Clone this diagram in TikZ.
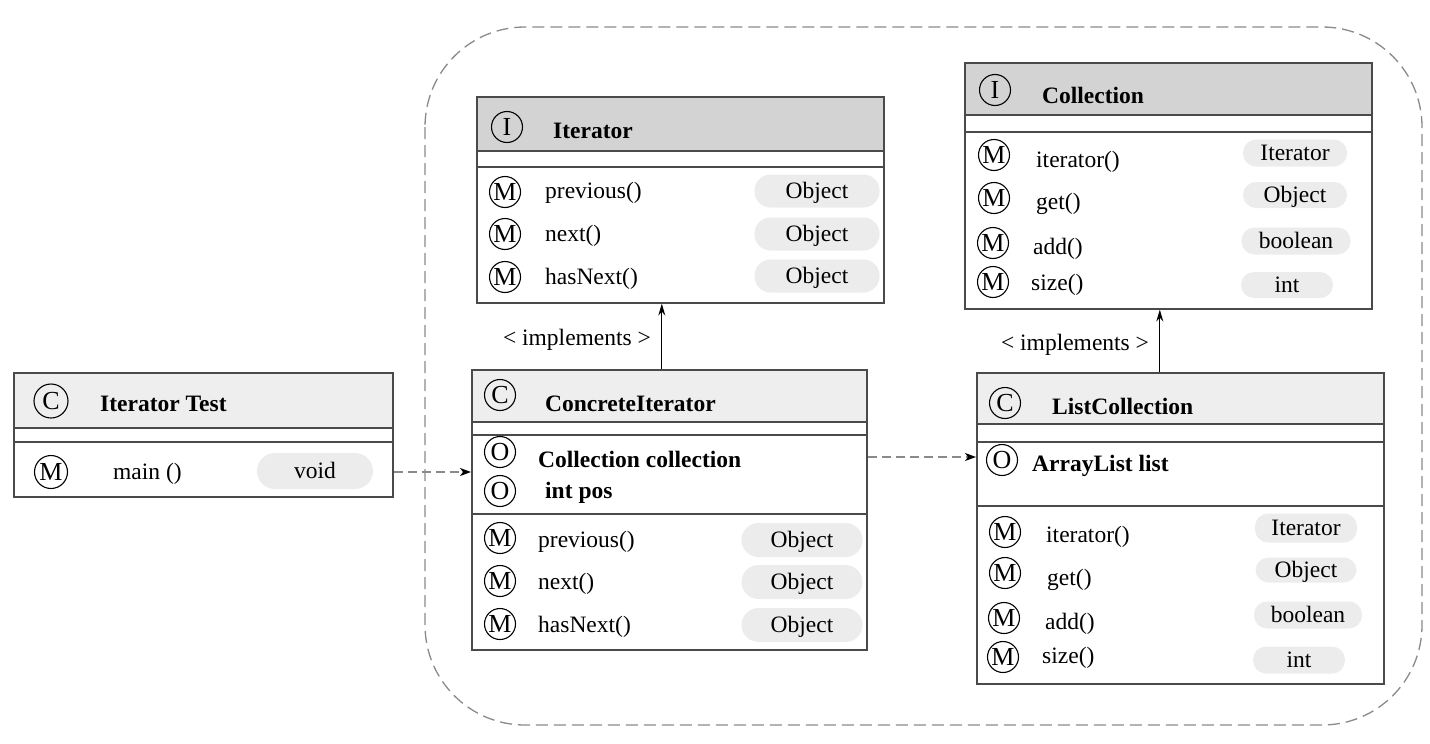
\documentclass[tikz,border=0pt]{standalone}
\usepackage{fontspec}
\setmainfont{Liberation Serif}
\usetikzlibrary{arrows.meta}
\definecolor{linec}{HTML}{4A4A4A}
\definecolor{hdrlight}{HTML}{EEEEEE}
\definecolor{hdrdark}{HTML}{D3D3D3}
\definecolor{pillc}{HTML}{ECECEC}
\definecolor{dashc}{HTML}{8A8A8A}
\tikzset{
  classbox/.style n args={4}{draw=linec, line width=1.6pt, minimum width=#1, minimum height=#2,
    anchor=north west, inner sep=0pt,
    path picture={\fill[#4] (path picture bounding box.north west) rectangle ([yshift=-#3]path picture bounding box.north east);}},
  divline/.style={draw=linec, line width=1.6pt},
  icon/.style={circle, draw=black, line width=1.1pt, inner sep=0pt, minimum size=31pt,
    font=\fontsize{26}{26}\selectfont},
  txt/.style={anchor=west, inner sep=0pt, yshift=-2.5pt, font=\fontsize{23.5}{27}\selectfont},
  btxt/.style={txt, font=\fontsize{23.5}{27}\selectfont\bfseries},
  pill/.style={rectangle, rounded corners=13pt, fill=pillc, inner sep=0pt,
    text height=15.5pt, text depth=0pt, font=\fontsize{23.5}{27}\selectfont},
  dep/.style={draw=dashc, line width=1.4pt, dash pattern=on 9pt off 5pt,
    -{Stealth[length=11pt,width=8pt,inset=3pt,fill=black,color=black]}},
  impl/.style={draw=black, line width=1.2pt,
    -{Stealth[length=12pt,width=7pt,inset=4pt]}},
  group/.style={draw=dashc, line width=1.3pt, dash pattern=on 12pt off 6pt, rounded corners=100pt}
}
\begin{document}
\begin{tikzpicture}[x=1pt,y=-1pt]
\useasboundingbox (0,0) rectangle (1430,744);
\draw[group] (425,27) rectangle (1422,725);

% ---------------- Iterator Test
\node[classbox={379}{124}{56}{hdrlight}] (test) at (13,372) {};
\draw[divline] (test.west |- 0,428) -- (test.east |- 0,428);
\draw[divline] (test.west |- 0,442) -- (test.east |- 0,442);
\node[icon, minimum size=34pt] (testc) at (51,401) {C};
\node[btxt] (testt) at (100,401) {Iterator Test};
\node[icon, minimum size=33pt] (testm) at (51,472) {M};
\node[txt] (testmain) at (113,471) {main ()};
\node[pill, minimum width=116pt, minimum height=36pt, rounded corners=18pt] (testvoid) at (315,471) {void};

% ---------------- Iterator (interface)
\node[classbox={407}{206}{55}{hdrdark}] (iter) at (476,96) {};
\draw[divline] (iter.west |- 0,151) -- (iter.east |- 0,151);
\draw[divline] (iter.west |- 0,167) -- (iter.east |- 0,167);
\node[icon] (iteri) at (507,127) {I};
\node[btxt] (itert) at (553,128) {Iterator};
\node[icon] (iterm1) at (505,192) {M};
\node[icon] (iterm2) at (505,234) {M};
\node[icon] (iterm3) at (505,277) {M};
\node[txt] (itern1) at (545,190) {previous()};
\node[txt] (itern2) at (545,233) {next()};
\node[txt] (itern3) at (545,276) {hasNext()};
\node[pill, minimum width=125pt, minimum height=33pt, rounded corners=16pt] (iterp1) at (817,191) {Object};
\node[pill, minimum width=125pt, minimum height=33pt, rounded corners=16pt] (iterp2) at (817,234) {Object};
\node[pill, minimum width=125pt, minimum height=33pt, rounded corners=16pt] (iterp3) at (817,276) {Object};

% ---------------- ConcreteIterator
\node[classbox={395}{280}{53}{hdrlight}] (conc) at (471,369) {};
\draw[divline] (conc.west |- 0,422) -- (conc.east |- 0,422);
\draw[divline] (conc.west |- 0,435) -- (conc.east |- 0,435);
\draw[divline] (conc.west |- 0,514) -- (conc.east |- 0,514);
\node[icon] (concc) at (500,395) {C};
\node[btxt] (conct) at (545,401) {ConcreteIterator};
\node[icon] (conco1) at (500,452) {O};
\node[icon] (conco2) at (500,491) {O};
\node[btxt] (conca1) at (538,457) {Collection collection};
\node[btxt] (conca2) at (545,490) {int pos};
\node[icon] (concm1) at (500,538) {M};
\node[icon] (concm2) at (500,581) {M};
\node[icon] (concm3) at (500,624) {M};
\node[txt] (concn1) at (538,539) {previous()};
\node[txt] (concn2) at (538,581) {next()};
\node[txt] (concn3) at (538,624) {hasNext()};
\node[pill, minimum width=121pt, minimum height=34pt, rounded corners=17pt] (concp1) at (802,540) {Object};
\node[pill, minimum width=121pt, minimum height=34pt, rounded corners=17pt] (concp2) at (802,582) {Object};
\node[pill, minimum width=121pt, minimum height=34pt, rounded corners=17pt] (concp3) at (802,625) {Object};

% ---------------- Collection (interface)
\node[classbox={407}{246}{53}{hdrdark}] (coll) at (964,62) {};
\draw[divline] (coll.west |- 0,115) -- (coll.east |- 0,115);
\draw[divline] (coll.west |- 0,132) -- (coll.east |- 0,132);
\node[icon] (colli) at (995,90) {I};
\node[btxt] (collt) at (1042,93) {Collection};
\node[icon] (collm1) at (994,155) {M};
\node[icon] (collm2) at (994,198) {M};
\node[icon] (collm3) at (993,243) {M};
\node[icon] (collm4) at (993,282) {M};
\node[txt] (colln1) at (1036,159) {iterator()};
\node[txt] (colln2) at (1036,201) {get()};
\node[txt] (colln3) at (1033,246) {add()};
\node[txt] (colln4) at (1031,282) {size()};
\node[pill, minimum width=104pt, minimum height=27pt] (collp1) at (1295,153) {Iterator};
\node[pill, minimum width=104pt, minimum height=26pt] (collp2) at (1295,195) {Object};
\node[pill, minimum width=109pt, minimum height=27pt] (collp3) at (1296,241) {boolean};
\node[pill, minimum width=92pt, minimum height=26pt] (collp4) at (1287,285) {int};

% ---------------- ListCollection
\node[classbox={407}{311}{52}{hdrlight}] (list) at (976,372) {};
\draw[divline] (list.west |- 0,424) -- (list.east |- 0,424);
\draw[divline] (list.west |- 0,442) -- (list.east |- 0,442);
\draw[divline] (list.west |- 0,506) -- (list.east |- 0,506);
\node[icon] (listc) at (1005,403) {C};
\node[btxt] (listt) at (1052,404) {ListCollection};
\node[icon] (listo) at (1002,460) {O};
\node[btxt] (lista) at (1032,463) {ArrayList list};
\node[icon] (listm1) at (1005,532) {M};
\node[icon] (listm2) at (1005,573) {M};
\node[icon] (listm3) at (1004,618) {M};
\node[icon] (listm4) at (1003,657) {M};
\node[txt] (listn1) at (1046,534) {iterator()};
\node[txt] (listn2) at (1047,577) {get()};
\node[txt] (listn3) at (1045,621) {add()};
\node[txt] (listn4) at (1042,655) {size()};
\node[pill, minimum width=102pt, minimum height=29pt] (listp1) at (1306,528) {Iterator};
\node[pill, minimum width=101pt, minimum height=25pt] (listp2) at (1306,570) {Object};
\node[pill, minimum width=108pt, minimum height=27pt] (listp3) at (1308,615) {boolean};
\node[pill, minimum width=92pt, minimum height=27pt] (listp4) at (1299,660) {int};

% ---------------- connectors
\draw[dep] (test.east |- testm.center) -- (conc.west |- testm.center);
\draw[dep] (conc.east |- 0,457) -- (list.west |- 0,457);
\draw[impl] ([xshift=-7.5pt]conc.north) -- ([xshift=-7.5pt]conc.north |- iter.south);
\draw[impl] ([xshift=-20.5pt]list.north) -- ([xshift=-20.5pt]list.north |- coll.south);
\node[txt, anchor=center] (impl1) at (577,337) {< implements >};
\node[txt, anchor=center] (impl2) at (1075,342) {< implements >};
\end{tikzpicture}
\end{document}
